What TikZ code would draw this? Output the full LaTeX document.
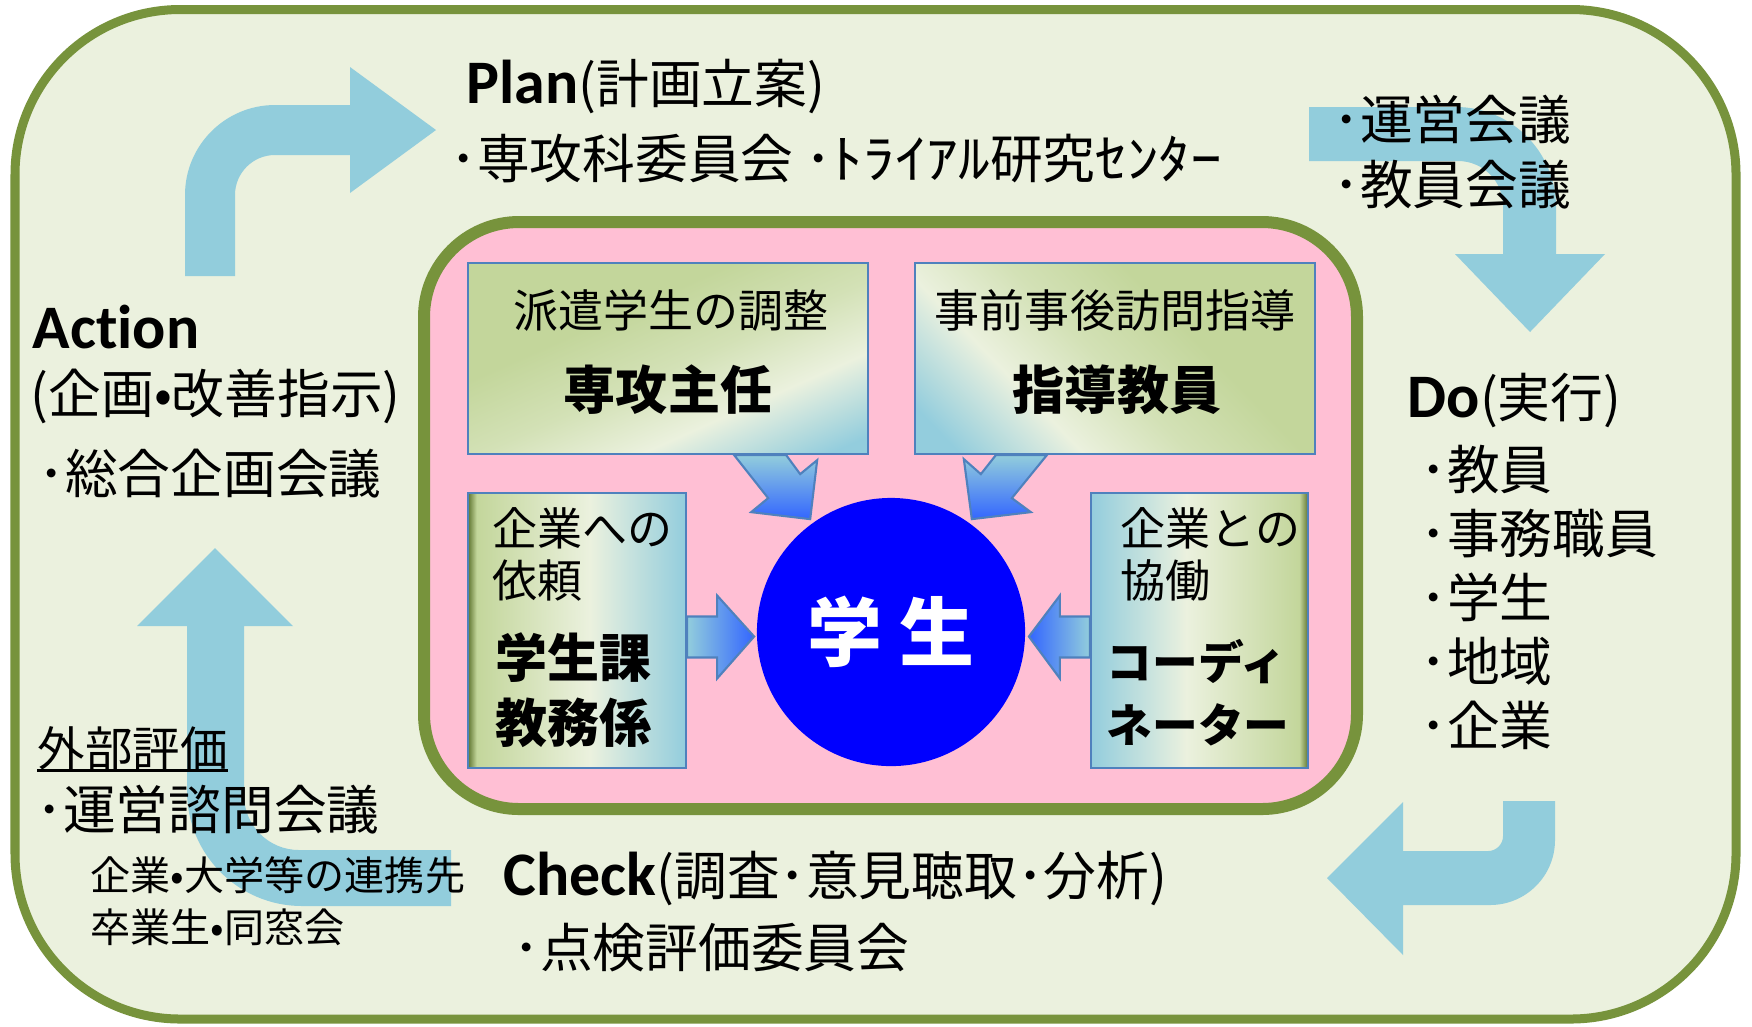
\documentclass[tikz,border=0pt]{standalone}
\usepackage{fontspec}
\usepackage{tikz}
\usetikzlibrary{shapes,arrows,positioning,shapes.geometric,shapes.misc}

\newfontfamily\jpfont{Noto Sans CJK JP}
\newfontfamily\latfont[Ligatures=NoCommon]{Carlito}

\definecolor{bgcream}{HTML}{EBF1DE}
\definecolor{olivegreen}{HTML}{77933C}
\definecolor{olivedark}{HTML}{5F7530}
\definecolor{pinkfill}{HTML}{FFBFD4}
\definecolor{loopblue}{HTML}{92CDDC}
\definecolor{boxgreen}{HTML}{C3D69B}
\definecolor{boxgreenlt}{HTML}{D3E1B6}
\definecolor{boxwhite}{HTML}{EBF1DE}
\definecolor{boxblue}{HTML}{93CDDD}
\definecolor{boxline}{HTML}{4F81BD}
\definecolor{tipblue}{HTML}{3366FF}

\pgfdeclarehorizontalshading{officeshade}{100bp}{color(0bp)=(olivedark); color(25bp)=(olivedark); color(27bp)=(boxgreen); color(53bp)=(boxwhite); color(75bp)=(boxblue); color(100bp)=(boxblue)}
\pgfdeclarehorizontalshading{coordshade}{100bp}{color(0bp)=(boxblue); color(25bp)=(boxblue); color(47bp)=(boxwhite); color(73bp)=(boxgreen); color(75bp)=(olivedark); color(100bp)=(olivedark)}
\pgfdeclareverticalshading{topshade}{100bp}{color(0bp)=(boxblue); color(20bp)=(boxblue); color(35bp)=(boxwhite); color(48bp)=(boxgreenlt); color(62bp)=(boxgreen); color(100bp)=(boxgreen)}

\newcommand{\kakko}[1]{{\jpfont\mdseries\fontsize{15pt}{18pt}\selectfont(#1)}}

\begin{document}
\begin{tikzpicture}[
        x=0.01cm, y=-0.01cm,
        cyclebox/.style={draw=olivegreen, line width=0.09cm, fill=bgcream, rounded corners=1.65cm},
        corebox/.style={draw=olivegreen, line width=0.12cm, fill=pinkfill, rounded corners=0.95cm},
        cyclearrow/.style={fill=loopblue},
        rolebox/.style={chamfered rectangle, chamfered rectangle sep=0.32cm, draw=boxline, line width=0.6pt, inner sep=0pt},
        smallarrow/.style={draw=boxline, line width=0.6pt},
        heading/.style={font=\latfont\bfseries\fontsize{17.6pt}{20pt}\selectfont, anchor=base west, inner sep=0pt},
        member/.style={font=\jpfont\fontsize{15pt}{18pt}\selectfont, anchor=base west, inner sep=0pt},
        note/.style={font=\jpfont\fontsize{11.4pt}{14pt}\selectfont, anchor=base west, inner sep=0pt},
        task/.style={font=\jpfont\fontsize{12.8pt}{15pt}\selectfont, inner sep=0pt},
        role/.style={font=\jpfont\bfseries\fontsize{14.8pt}{18pt}\selectfont, inner sep=0pt}
    ]
        \useasboundingbox (0,0) rectangle (1752,1026);

        % PDCA frame
        \draw[cyclebox] (15,9.5) rectangle (1736,1019);

        % Cycle arrows
        \fill[cyclearrow] (185,276) -- (185,195) .. controls (185,145.3) and (225.3,105) .. (275,105) -- (350,105) -- (350,67) -- (436,130) -- (350,193) -- (350,155) -- (275,155) .. controls (252.9,155) and (235,172.9) .. (235,195) -- (235,276) -- cycle;
        \fill[cyclearrow] (1309,107) -- (1456,107) .. controls (1511.2,107) and (1556,151.8) .. (1556,207) -- (1556,254) -- (1605,254) -- (1530,332) -- (1455,254) -- (1503,254) -- (1503,206) .. controls (1503,181.1) and (1482.9,161) .. (1458,161) -- (1309,161) -- cycle;
        \fill[cyclearrow] (1503,801) -- (1555,801) -- (1555,840) .. controls (1555,875.9) and (1525.9,905) .. (1490,905) -- (1403,905) -- (1403,955) -- (1327,878) -- (1403,802) -- (1403,851) -- (1488,851) .. controls (1496.3,851) and (1503,844.3) .. (1503,836) -- cycle;
        \fill[cyclearrow] (451,850) -- (451,906) -- (302,906) .. controls (238.5,906) and (187,854.5) .. (187,791) -- (187,626) -- (137,626) -- (215,548) -- (293,626) -- (244,626) -- (244,795) .. controls (244,825.4) and (268.6,850) .. (299,850) -- cycle;

        % Support team
        \draw[corebox] (424,222) rectangle (1357,809);
        \node[rolebox, chamfered rectangle corners=north west, minimum width=4cm, minimum height=1.91cm,
              shading=topshade, shading angle=24] (chief) at (668,358.5) {};
        \node[rolebox, chamfered rectangle corners=north east, minimum width=4cm, minimum height=1.91cm,
              shading=topshade, shading angle=-46] (advisor) at (1115,358.5) {};
        \node[rolebox, chamfered rectangle corners=south west, chamfered rectangle sep=0.36cm, minimum width=2.18cm, minimum height=2.75cm,
              shading=officeshade] (office) at (577,630.5) {};
        \node[rolebox, chamfered rectangle corners=south east, chamfered rectangle sep=0.36cm, minimum width=2.17cm, minimum height=2.75cm,
              shading=coordshade] (coord) at (1199.5,630.5) {};
        \node[circle, fill=blue, minimum size=2.68cm, inner sep=0pt, text=white,
              font=\jpfont\bfseries\fontsize{21.3pt}{24pt}\selectfont] (student) at (891,632) {学 生};

        % Arrows to the student
        \path[smallarrow, top color=loopblue, bottom color=tipblue] (chief.south east) ++(-135,0) -- ++(52,0) -- ++(14,19) -- ++(17,-14) -- ++(-7,59) -- ++(-59,-7) -- ++(17,-14) -- cycle;
        \path[smallarrow, top color=loopblue, bottom color=tipblue] (advisor.south west) ++(82,0) -- ++(51,0) -- ++(-35,43) -- ++(19,14) -- ++(-59,7) -- ++(-8,-60) -- ++(17,15) -- cycle;
        \path[smallarrow, left color=loopblue, right color=tipblue] (office.east) ++(0,-14) -- ++(30,0) -- ++(0,-21) -- ++(37,41) -- ++(-37,42) -- ++(0,-21) -- ++(-30,0) -- cycle;
        \path[smallarrow, left color=tipblue, right color=loopblue] (coord.west) ++(0,-14) -- ++(-30,0) -- ++(0,-21) -- ++(-31,41) -- ++(31,42) -- ++(0,-21) -- ++(30,0) -- cycle;

        % Box texts
        \node[task, anchor=base] (chieftask) at (671,327) {派遣学生の調整};
        \node[role, anchor=base] (chiefname) at (668,409) {専攻主任};
        \node[task, anchor=base] (advisortask) at (1115,327) {事前事後訪問指導};
        \node[role, anchor=base] (advisorname) at (1117,409) {指導教員};
        \node[task, anchor=base west] (officetask) at (492,545) {企業への};
        \node[task, anchor=base west] (officetask2) at (492,597) {依頼};
        \node[role, anchor=base west] (officename) at (495,677) {学生課};
        \node[role, anchor=base west] (officename2) at (495,742) {教務係};
        \node[task, anchor=base west] (coordtask) at (1120,545) {企業との};
        \node[task, anchor=base west] (coordtask2) at (1120,597) {協働};
        \node[role, anchor=base west, font=\jpfont\bfseries\fontsize{13pt}{16pt}\selectfont] (coordname) at (1106,679) {コーディ};
        \node[role, anchor=base west, font=\jpfont\bfseries\fontsize{13pt}{16pt}\selectfont] (coordname2) at (1106,742) {ネーター};

        % Plan
        \node[heading] (plan) at (466,103) {Plan\kakko{計画立案}};
        \node[member] (planorg) at (450,178) {･専攻科委員会 ･\scalebox{1.2}[1]{ﾄﾗｲｱﾙ}研究\scalebox{1.2}[1]{ｾﾝﾀｰ}};
        \node[member] (runmeet) at (1333,139) {･運営会議};
        \node[member] (staffmeet) at (1333,204) {･教員会議};

        % Do
        \node[heading] (do) at (1407,417) {Do\kakko{実行}};
        \node[member] (doA) at (1420,489) {･教員};
        \node[member] (doB) at (1420,553) {･事務職員};
        \node[member] (doC) at (1420,617) {･学生};
        \node[member] (doD) at (1420,681) {･地域};
        \node[member] (doE) at (1420,745) {･企業};

        % Check
        \node[heading] (check) at (503,895) {Check\kakko{調査･意見聴取･分析}};
        \node[member] (checkmeet) at (513,967) {･点検評価委員会};

        % Action
        \node[heading] (action) at (32,348) {Action};
        \node[member] (actionsub) at (30,413) {(企画•改善指示)};
        \node[member] (planmeet) at (38,493) {･総合企画会議};
        \node[member, font=\jpfont\fontsize{13.5pt}{16pt}\selectfont] (external) at (37,766) {外部評価};
        \draw[line width=0.7pt] (external.south west) -- (external.south east);
        \node[member] (advisory) at (36,829) {･運営諮問会議};
        \node[note] (partners) at (90,890) {企業•大学等の連携先};
        \node[note] (alumni) at (90,942) {卒業生•同窓会};
    \end{tikzpicture}
\end{document}
